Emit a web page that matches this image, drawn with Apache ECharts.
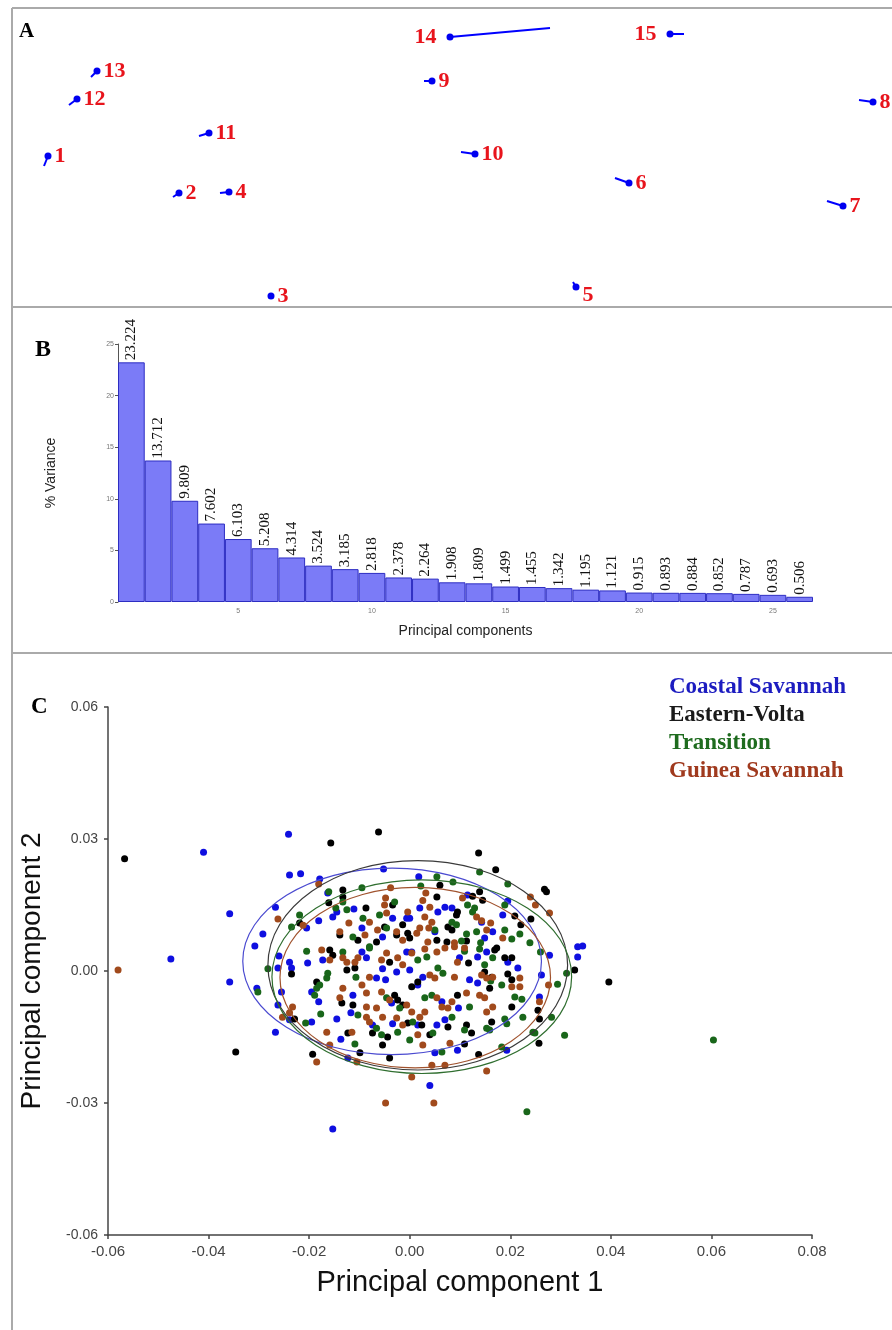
<!DOCTYPE html>
<html>
<head>
<meta charset="utf-8">
<title>PCA figure</title>
<script src="https://cdn.jsdelivr.net/npm/echarts@6/dist/echarts.min.js"></script>
<style>
  html, body { margin: 0; padding: 0; background: #fff; }
  #chart { width: 892px; height: 1330px; }
</style>
</head>
<body>
<div id="chart"></div>
<script>
// ---- panel A: accession layout (panel units) and the end of each tail
var accNames = ['1', '2', '3', '4', '5', '6', '7', '8', '9', '10', '11', '12', '13', '14', '15']
var accX = [48, 179, 271, 229, 576, 629, 843, 873, 432, 475, 209, 77, 97, 450, 670]
var accY = [156, 193, 296, 192, 287, 183, 206, 102, 81, 154, 133, 99, 71, 37, 34]
var tailX = [44, 173, 271, 220, 573, 615, 827, 859, 424, 461, 199, 69, 91, 550, 684]
var tailY = [166, 197, 296, 193, 282, 178, 201, 100, 81, 152, 136, 105, 77, 28, 34]

// ---- panel B: % variance per principal component
var pcNumbers = ['1', '2', '3', '4', '5', '6', '7', '8', '9', '10', '11', '12', '13',
  '14', '15', '16', '17', '18', '19', '20', '21', '22', '23', '24', '25', '26']
var pcVariance = [23.224, 13.712, 9.809, 7.602, 6.103, 5.208, 4.314, 3.524, 3.185, 2.818,
  2.378, 2.264, 1.908, 1.809, 1.499, 1.455, 1.342, 1.195, 1.121, 0.915, 0.893, 0.884,
  0.852, 0.787, 0.693, 0.506]

// ---- panel C: PC1 / PC2 scores per zone
var zoneNames = ['Coastal Savannah', 'Eastern-Volta', 'Transition', 'Guinea Savannah']
var coastalSavannah = [
  [-0.0241, 0.0311], [-0.0410, 0.0270], [-0.0475, 0.0027], [-0.0358, 0.0130], [-0.0358, -0.0025],
  [-0.0239, 0.0218], [-0.0217, 0.0221], [-0.0153, -0.0359], [0.0040, -0.0260], [0.0334, 0.0055],
  [0.0344, 0.0057], [0.0334, 0.0032], [0.0095, -0.0180], [0.0193, -0.0180], [-0.0267, -0.0139],
  [-0.0308, 0.0057], [-0.0292, 0.0084], [-0.0267, 0.0145], [-0.0179, 0.0209], [-0.0052, 0.0232],
  [-0.0181, 0.0114], [-0.0205, 0.0098], [-0.0153, 0.0123], [-0.0111, 0.0141], [-0.0163, 0.0177],
  [-0.0145, 0.0134], [-0.0095, 0.0098], [-0.0054, 0.0077], [-0.0034, 0.0120], [-0.0006, 0.0120],
  [0.0018, 0.0214], [0.0115, 0.0173], [0.0195, 0.0159], [0.0185, 0.0127], [0.0020, 0.0143],
  [0.0056, 0.0134], [0.0070, 0.0145], [0.0084, 0.0143], [0.0000, 0.0120], [0.0165, 0.0089],
  [0.0143, 0.0111], [0.0149, 0.0075], [0.0050, 0.0089], [-0.0260, 0.0034], [-0.0262, 0.0007],
  [-0.0239, 0.0020], [-0.0235, 0.0007], [-0.0203, 0.0018], [-0.0304, -0.0039], [-0.0255, -0.0048],
  [-0.0262, -0.0077], [-0.0195, -0.0048], [-0.0181, -0.0070], [-0.0239, -0.0111], [-0.0145, -0.0109],
  [-0.0195, -0.0116], [-0.0137, -0.0155], [-0.0123, -0.0198], [-0.0173, 0.0025], [-0.0113, -0.0055],
  [-0.0117, -0.0095], [-0.0095, 0.0043], [-0.0086, 0.0030], [-0.0066, -0.0016], [-0.0048, -0.0020],
  [-0.0036, -0.0073], [-0.0074, -0.0123], [-0.0034, -0.0120], [-0.0054, 0.0005], [-0.0026, -0.0002],
  [-0.0006, 0.0043], [0.0099, 0.0030], [0.0135, 0.0032], [0.0153, 0.0043], [0.0195, 0.0020],
  [0.0215, 0.0007], [0.0262, -0.0009], [0.0278, 0.0036], [0.0119, -0.0020], [0.0135, -0.0027],
  [0.0097, -0.0084], [0.0064, -0.0070], [0.0054, -0.0123], [0.0070, -0.0111], [0.0016, -0.0123],
  [0.0258, -0.0059], [0.0050, -0.0186], [0.0000, 0.0002], [0.0004, 0.0043], [0.0016, -0.0032],
  [0.0026, -0.0014]
]
var easternVolta = [
  [-0.0567, 0.0255], [-0.0157, 0.0291], [-0.0062, 0.0316], [0.0137, 0.0268], [0.0171, 0.0230],
  [0.0268, 0.0186], [0.0272, 0.0180], [0.0396, -0.0025], [-0.0346, -0.0184], [0.0328, 0.0002],
  [0.0257, -0.0164], [0.0137, -0.0190], [-0.0133, 0.0184], [-0.0133, 0.0168], [-0.0161, 0.0155],
  [-0.0087, 0.0143], [-0.0219, 0.0109], [-0.0034, 0.0150], [-0.0014, 0.0105], [-0.0026, 0.0082],
  [-0.0050, 0.0100], [-0.0139, 0.0082], [-0.0103, 0.0070], [-0.0066, 0.0066], [0.0060, 0.0195],
  [0.0054, 0.0168], [0.0139, 0.0180], [0.0125, 0.0170], [0.0145, 0.0161], [0.0241, 0.0118],
  [0.0221, 0.0105], [0.0209, 0.0125], [0.0095, 0.0134], [0.0093, 0.0127], [0.0076, 0.0100],
  [0.0084, 0.0093], [0.0054, 0.0070], [-0.0004, 0.0086], [0.0000, 0.0075], [0.0074, 0.0066],
  [0.0113, 0.0068], [0.0173, 0.0052], [-0.0193, -0.0189], [-0.0159, 0.0048], [-0.0153, 0.0036],
  [-0.0235, -0.0007], [-0.0185, -0.0025], [-0.0135, -0.0073], [-0.0113, -0.0077], [-0.0229, -0.0109],
  [-0.0123, -0.0141], [-0.0099, -0.0186], [-0.0040, -0.0198], [-0.0125, 0.0002], [-0.0109, 0.0007],
  [-0.0074, -0.0141], [-0.0054, -0.0168], [-0.0044, -0.0150], [-0.0030, -0.0055], [-0.0024, -0.0066],
  [-0.0040, 0.0020], [-0.0014, -0.0077], [0.0169, 0.0048], [0.0189, 0.0030], [0.0203, 0.0030],
  [0.0117, 0.0018], [0.0163, -0.0014], [0.0149, -0.0002], [0.0195, -0.0007], [0.0203, -0.0020],
  [0.0159, -0.0039], [0.0095, -0.0055], [0.0203, -0.0082], [0.0255, -0.0089], [0.0258, -0.0109],
  [0.0163, -0.0116], [0.0113, -0.0123], [0.0123, -0.0141], [0.0109, -0.0166], [0.0004, -0.0036],
  [0.0016, -0.0025], [0.0024, -0.0123], [0.0076, -0.0127], [0.0040, -0.0145], [-0.0004, -0.0118]
]
var transition = [
  [0.0604, -0.0157], [0.0233, -0.0320], [0.0308, -0.0146], [-0.0282, 0.0005], [-0.0095, 0.0189],
  [-0.0161, 0.0180], [-0.0133, 0.0157], [-0.0147, 0.0143], [-0.0125, 0.0139], [-0.0219, 0.0127],
  [-0.0235, 0.0100], [-0.0093, 0.0120], [-0.0060, 0.0127], [-0.0030, 0.0157], [-0.0046, 0.0098],
  [-0.0113, 0.0077], [-0.0080, 0.0055], [0.0054, 0.0214], [0.0022, 0.0193], [0.0086, 0.0202],
  [0.0139, 0.0225], [0.0195, 0.0198], [0.0189, 0.0150], [0.0115, 0.0150], [0.0129, 0.0143],
  [0.0125, 0.0134], [0.0084, 0.0111], [0.0093, 0.0105], [0.0113, 0.0084], [0.0133, 0.0089],
  [0.0189, 0.0093], [0.0203, 0.0073], [0.0219, 0.0084], [0.0239, 0.0064], [0.0141, 0.0064],
  [0.0050, 0.0093], [0.0103, 0.0068], [-0.0302, -0.0048], [-0.0205, 0.0045], [-0.0185, -0.0039],
  [-0.0179, -0.0032], [-0.0189, -0.0055], [-0.0165, -0.0016], [-0.0177, -0.0098], [-0.0207, -0.0118],
  [-0.0109, -0.0166], [-0.0163, -0.0005], [-0.0133, 0.0043], [-0.0107, -0.0014], [-0.0103, -0.0100],
  [-0.0080, 0.0052], [-0.0046, -0.0061], [-0.0066, -0.0130], [-0.0020, -0.0084], [-0.0024, -0.0139],
  [-0.0056, -0.0145], [0.0109, 0.0045], [0.0139, 0.0050], [0.0165, 0.0030], [0.0149, 0.0014],
  [0.0183, -0.0032], [0.0161, -0.0023], [0.0209, -0.0059], [0.0223, -0.0064], [0.0189, -0.0109],
  [0.0193, -0.0120], [0.0225, -0.0105], [0.0249, -0.0141], [0.0282, -0.0105], [0.0294, -0.0030],
  [0.0312, -0.0005], [0.0260, 0.0043], [0.0109, -0.0134], [0.0119, -0.0082], [0.0084, -0.0105],
  [0.0153, -0.0130], [0.0000, -0.0157], [0.0183, -0.0173], [0.0064, -0.0184], [0.0034, 0.0032],
  [0.0016, 0.0025], [0.0056, 0.0007], [0.0066, -0.0005], [0.0030, -0.0061], [0.0044, -0.0055],
  [0.0006, -0.0116], [0.0046, -0.0141], [0.0245, -0.0139], [0.0159, -0.0134]
]
var guineaSavannah = [
  [-0.0580, 0.0002], [-0.0048, -0.0300], [0.0048, -0.0300], [0.0153, -0.0227], [-0.0262, 0.0118],
  [0.0240, 0.0168], [0.0278, 0.0132], [0.0276, -0.0032], [-0.0185, -0.0207], [-0.0181, 0.0198],
  [-0.0038, 0.0189], [-0.0048, 0.0166], [-0.0050, 0.0150], [-0.0046, 0.0132], [-0.0212, 0.0104],
  [-0.0121, 0.0109], [-0.0080, 0.0111], [-0.0064, 0.0093], [-0.0089, 0.0082], [-0.0139, 0.0089],
  [-0.0026, 0.0089], [-0.0014, 0.0070], [0.0250, 0.0150], [0.0032, 0.0177], [0.0026, 0.0160],
  [0.0105, 0.0166], [0.0040, 0.0145], [0.0030, 0.0123], [0.0044, 0.0111], [0.0038, 0.0098],
  [0.0133, 0.0123], [0.0143, 0.0114], [0.0161, 0.0109], [0.0153, 0.0093], [0.0020, 0.0098],
  [0.0014, 0.0086], [-0.0004, 0.0134], [0.0089, 0.0064], [0.0185, 0.0075], [0.0036, 0.0066],
  [-0.0233, -0.0082], [-0.0239, -0.0095], [-0.0253, -0.0105], [-0.0175, 0.0048], [-0.0165, -0.0139],
  [-0.0159, -0.0168], [-0.0133, 0.0030], [-0.0125, 0.0020], [-0.0109, 0.0020], [-0.0103, 0.0030],
  [-0.0133, -0.0039], [-0.0139, -0.0061], [-0.0095, -0.0032], [-0.0086, -0.0050], [-0.0086, -0.0082],
  [-0.0086, -0.0105], [-0.0080, -0.0116], [-0.0115, -0.0139], [-0.0066, -0.0084], [-0.0054, -0.0105],
  [-0.0056, -0.0048], [-0.0040, -0.0066], [-0.0026, -0.0107], [-0.0014, -0.0123], [-0.0056, 0.0025],
  [-0.0046, 0.0041], [-0.0024, 0.0030], [-0.0014, 0.0014], [-0.0080, -0.0014], [-0.0159, 0.0025],
  [-0.0105, -0.0207], [0.0004, 0.0041], [0.0030, 0.0050], [0.0054, 0.0043], [0.0070, 0.0052],
  [0.0089, 0.0055], [0.0040, -0.0009], [0.0050, -0.0016], [0.0089, -0.0014], [0.0143, -0.0009],
  [0.0153, -0.0016], [0.0165, -0.0014], [0.0203, -0.0036], [0.0219, -0.0036], [0.0139, -0.0055],
  [0.0149, -0.0061], [0.0113, -0.0050], [0.0165, -0.0082], [0.0153, -0.0093], [0.0054, -0.0061],
  [0.0064, -0.0082], [0.0076, -0.0084], [0.0084, -0.0070], [0.0020, -0.0105], [0.0030, -0.0093],
  [0.0004, -0.0093], [-0.0006, -0.0077], [0.0016, -0.0145], [0.0026, -0.0168], [0.0080, -0.0164],
  [0.0258, -0.0070], [0.0004, -0.0241], [0.0044, -0.0214], [0.0070, -0.0214], [0.0095, 0.0020],
  [0.0109, 0.0052], [0.0219, -0.0016]
]
// confidence ellipses, same zone order
var ellipseCx = [-0.0035, 0.0016, 0.0024, 0.0011]
var ellipseCy = [0.0022, 0.0013, -0.0013, -0.0015]
var ellipseRx = [0.0297, 0.0298, 0.0298, 0.0269]
var ellipseRy = [0.0212, 0.0238, 0.0220, 0.0205]

var serif = '"Times New Roman", "Liberation Serif", serif'
var sans = 'Arial, "Liberation Sans", sans-serif'
var zoneColors = ['#0f0fe0', '#000000', '#19661a', '#a14a1c']
var legendColors = ['#1c1cc0', '#1a1a1a', '#1e6b1e', '#a03a1e']
var ellipseColors = ['#4a4ad0', '#3a3a3a', '#2f6e2f', '#a0522d']
var zoneData = [coastalSavannah, easternVolta, transition, guineaSavannah]

let myChart = echarts.init(document.getElementById('chart'))

// panel A items: label side is a style, kept here
var leftLabels = { '14': true, '15': true }
var accItems = accNames.map(function (n, i) {
  var item = { name: n, value: [accX[i], accY[i]] }
  if (leftLabels[n]) item.label = { position: 'left', distance: 10 }
  if (n === '5') item.label = { offset: [0, 8] }
  return item
})
var tailItems = accNames.map(function (n, i) {
  return { coords: [[tailX[i], tailY[i]], [accX[i], accY[i]]] }
})

var ellipseItems = ellipseCx.map(function (c, i) {
  return [c, ellipseCy[i], ellipseRx[i], ellipseRy[i], i]
})

var series = [
  {
    type: 'lines',
    coordinateSystem: 'cartesian2d',
    xAxisIndex: 0,
    yAxisIndex: 0,
    data: tailItems,
    lineStyle: { color: '#0000ff', width: 2, opacity: 1 },
    silent: true
  },
  {
    type: 'scatter',
    xAxisIndex: 0,
    yAxisIndex: 0,
    data: accItems,
    symbolSize: 7,
    itemStyle: { color: '#0000f0', opacity: 1 },
    label: {
      show: true,
      position: 'right',
      distance: 3,
      formatter: '{b}',
      color: '#e8141c',
      fontFamily: serif,
      fontWeight: 'bold',
      fontSize: 22
    }
  },
  {
    type: 'bar',
    xAxisIndex: 1,
    yAxisIndex: 1,
    data: pcVariance,
    barCategoryGap: '0%',
    itemStyle: { color: '#7b7bf7', borderColor: '#2d2dc2', borderWidth: 1 },
    label: {
      show: true,
      position: 'top',
      rotate: 90,
      align: 'left',
      verticalAlign: 'middle',
      distance: 2,
      color: '#111',
      fontFamily: serif,
      fontSize: 15
    }
  }
]

zoneNames.forEach(function (name, i) {
  series.push({
    name: name,
    type: 'scatter',
    xAxisIndex: 2,
    yAxisIndex: 2,
    data: zoneData[i],
    symbolSize: 7,
    itemStyle: { color: zoneColors[i], opacity: 1 }
  })
})

series.push({
  type: 'custom',
  xAxisIndex: 2,
  yAxisIndex: 2,
  data: ellipseItems,
  encode: { x: 0, y: 1 },
  z: 5,
  silent: true,
  renderItem: function (params, api) {
    var c = api.coord([api.value(0), api.value(1)])
    var s = api.size([api.value(2), api.value(3)], [api.value(0), api.value(1)])
    return {
      type: 'ellipse',
      shape: { cx: c[0], cy: c[1], rx: s[0], ry: s[1] },
      style: { fill: null, stroke: ellipseColors[api.value(4)], lineWidth: 1.2 }
    }
  }
})

let option = {
  animation: false,
  backgroundColor: '#fff',
  grid: [
    { left: 0, top: 0, width: 892, height: 310 },
    { left: 118, top: 344, width: 695, height: 258 },
    { left: 108, top: 707, width: 704, height: 528 }
  ],
  xAxis: [
    { gridIndex: 0, type: 'value', min: 0, max: 892, show: false },
    {
      gridIndex: 1,
      type: 'category',
      data: pcNumbers,
      name: 'Principal components',
      nameLocation: 'middle',
      nameGap: 22,
      nameTextStyle: { fontFamily: sans, fontSize: 14, color: '#222' },
      axisLine: { show: false },
      axisTick: { show: false },
      axisLabel: {
        fontSize: 7,
        color: '#777',
        margin: 6,
        interval: function (index) { return (index + 1) % 5 === 0 }
      }
    },
    {
      gridIndex: 2,
      type: 'value',
      min: -0.06,
      max: 0.08,
      interval: 0.02,
      name: 'Principal component 1',
      nameLocation: 'middle',
      nameGap: 33,
      nameTextStyle: { fontFamily: sans, fontSize: 29, color: '#111' },
      axisLine: { onZero: false, lineStyle: { color: '#444', width: 1.5 } },
      axisTick: { length: 4, lineStyle: { color: '#444', width: 1.5 } },
      axisLabel: {
        fontFamily: sans,
        fontSize: 15,
        color: '#444',
        margin: 9,
        formatter: function (v) { return v.toFixed(2) }
      },
      splitLine: { show: false }
    }
  ],
  yAxis: [
    { gridIndex: 0, type: 'value', min: 0, max: 310, inverse: true, show: false },
    {
      gridIndex: 1,
      type: 'value',
      min: 0,
      max: 25,
      interval: 5,
      name: '% Variance',
      nameLocation: 'middle',
      nameGap: 60,
      nameTextStyle: { fontFamily: sans, fontSize: 14, color: '#222' },
      axisLine: { show: true, lineStyle: { color: '#555', width: 1 } },
      axisTick: { show: true, length: 3, lineStyle: { color: '#555' } },
      axisLabel: { fontSize: 7, color: '#777', margin: 4 },
      splitLine: { show: false }
    },
    {
      gridIndex: 2,
      type: 'value',
      min: -0.06,
      max: 0.06,
      interval: 0.03,
      name: 'Principal component 2',
      nameLocation: 'middle',
      nameGap: 62,
      nameTextStyle: { fontFamily: sans, fontSize: 28, color: '#111' },
      axisLine: { onZero: false, lineStyle: { color: '#444', width: 1.5 } },
      axisTick: { length: 4, lineStyle: { color: '#444', width: 1.5 } },
      axisLabel: {
        fontFamily: sans,
        fontSize: 14,
        color: '#444',
        margin: 10,
        formatter: function (v) { return v.toFixed(2) }
      },
      splitLine: { show: false }
    }
  ],
  legend: {
    orient: 'vertical',
    left: 659,
    top: 671,
    itemWidth: 0,
    itemHeight: 0,
    itemGap: 5,
    selectedMode: false,
    textStyle: { fontFamily: serif, fontWeight: 'bold', fontSize: 23 },
    data: zoneNames.map(function (n, i) {
      return { name: n, icon: 'rect', textStyle: { color: legendColors[i] } }
    })
  },
  graphic: [
    // panel frames
    { type: 'line', shape: { x1: 12, y1: 8, x2: 892, y2: 8 }, style: { stroke: '#aaa', lineWidth: 2 } },
    { type: 'line', shape: { x1: 12, y1: 307, x2: 892, y2: 307 }, style: { stroke: '#aaa', lineWidth: 2 } },
    { type: 'line', shape: { x1: 12, y1: 653, x2: 892, y2: 653 }, style: { stroke: '#aaa', lineWidth: 2 } },
    { type: 'line', shape: { x1: 12, y1: 8, x2: 12, y2: 1330 }, style: { stroke: '#aaa', lineWidth: 2 } },
    // panel letters
    { type: 'text', left: 19, top: 21, style: { text: 'A', font: 'bold 21px ' + serif, fill: '#000' } },
    { type: 'text', left: 35, top: 338, style: { text: 'B', font: 'bold 24px ' + serif, fill: '#000' } },
    { type: 'text', left: 31, top: 696, style: { text: 'C', font: 'bold 23px ' + serif, fill: '#000' } }
  ],
  series: series
}

myChart.setOption(option)
</script>
</body>
</html>
